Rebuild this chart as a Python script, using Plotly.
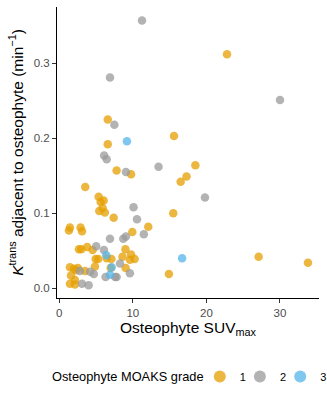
import plotly.graph_objects as go

grade1_x = [22.8, 15.6, 6.6, 6.6, 7.8, 9.76, 3.54, 5.36, 5.63, 6.04, 5.9, 5.44, 6.2, 7.4, 12.1, 9.93,
            1.46, 1.32, 2.9, 3.1, 2.68, 3.0, 3.8, 4.54, 6.45, 4.95, 5.3, 7.1, 9.0, 8.6, 9.76, 9.6, 10.25,
            9.03, 7.0, 4.86, 3.5, 2.54, 2.27, 2.0, 1.46, 1.6, 2.14, 1.46, 2.14, 14.9, 18.5, 17.3, 16.5,
            15.5, 27.1, 33.8]
grade1_y = [0.312, 0.203, 0.225, 0.192, 0.157, 0.152, 0.135, 0.122, 0.115, 0.117, 0.107, 0.103, 0.101,
            0.094, 0.082, 0.075, 0.081, 0.077, 0.081, 0.076, 0.052, 0.052, 0.055, 0.051, 0.040, 0.039,
            0.039, 0.039, 0.052, 0.042, 0.045, 0.038, 0.039, 0.027, 0.027, 0.029, 0.023, 0.027, 0.024,
            0.026, 0.028, 0.017, 0.011, 0.006, 0.005, 0.019, 0.164, 0.149, 0.142, 0.100, 0.042, 0.034]

grade2_x = [11.25, 6.9, 30.0, 7.5, 6.1, 6.45, 9.07, 13.5, 10.1, 10.57, 11.5, 9.07, 8.7, 6.9, 5.03, 6.08,
            8.26, 6.3, 7.6, 7.8, 9.6, 4.7, 4.2, 3.1, 4.0, 2.8, 19.8]
grade2_y = [0.357, 0.281, 0.251, 0.218, 0.177, 0.172, 0.155, 0.162, 0.108, 0.092, 0.072, 0.069, 0.066,
            0.066, 0.056, 0.051, 0.033, 0.015, 0.015, 0.015, 0.020, 0.019, 0.022, 0.006, 0.004, 0.023, 0.121]

grade3_x = [9.2, 6.4, 7.13, 6.9, 16.7]
grade3_y = [0.196, 0.044, 0.028, 0.018, 0.040]

grades = ["1", "2", "3"]
colors = ["#E69F00", "#999999", "#56B4E9"]
xs = [grade1_x, grade2_x, grade3_x]
ys = [grade1_y, grade2_y, grade3_y]
legend_ids = ["legend", "legend2", "legend3"]
legend_title = "Osteophyte MOAKS grade"

fig = go.Figure()
for g, c, x, y, lg in zip(grades, colors, xs, ys, legend_ids):
    fig.add_trace(go.Scatter(
        x=x, y=y, mode="markers", name=g, legend=lg,
        marker=dict(color=c, size=8.5, opacity=0.75, line=dict(width=0)),
    ))

font = "Liberation Sans, Arial, sans-serif"
leg_y = -0.27
leg_common = dict(orientation="h", y=leg_y, yanchor="middle", xanchor="left",
                  font=dict(size=11, color="black"), itemwidth=30, itemsizing="constant",
                  bgcolor="rgba(0,0,0,0)")
fig.update_layout(
    width=327, height=400,
    margin=dict(l=57, r=8, t=7, b=102, autoexpand=False),
    plot_bgcolor="white", paper_bgcolor="white",
    font=dict(family=font, color="black"),
    showlegend=True,
    legend=dict(x=0.545, **leg_common),
    legend2=dict(x=0.698, **leg_common),
    legend3=dict(x=0.852, **leg_common),
    annotations=[dict(text=legend_title, xref="paper", yref="paper", x=-0.027, y=leg_y,
                      xanchor="left", yanchor="middle", showarrow=False,
                      font=dict(size=12.8, color="black"))],
    xaxis=dict(
        range=[-0.3, 35.3], tickvals=[0, 10, 20, 30], showgrid=False, zeroline=False,
        showline=True, linecolor="black", linewidth=1, automargin=True,
        ticks="outside", ticklen=4, tickcolor="#333333", tickwidth=1,
        tickfont=dict(size=11.5, color="#4D4D4D"),
        title=dict(text="Osteophyte SUV<sub>max</sub>", font=dict(size=15.5, color="black"), standoff=2),
    ),
    yaxis=dict(
        range=[-0.013, 0.375], tickvals=[0, 0.1, 0.2, 0.3], tickformat=".1f",
        showgrid=False, zeroline=False, automargin=True,
        showline=True, linecolor="black", linewidth=1,
        ticks="outside", ticklen=4, tickcolor="#333333", tickwidth=1,
        tickfont=dict(size=11.5, color="#4D4D4D"),
        title=dict(text="<i>K</i><sup>trans</sup> adjacent to osteophyte (min<sup>\u22121</sup>)",
                   font=dict(size=15.5, color="black"), standoff=6),
    ),
)

fig.write_html("out.html", config={"displayModeBar": False},
               post_script="document.body.style.margin='0';")
